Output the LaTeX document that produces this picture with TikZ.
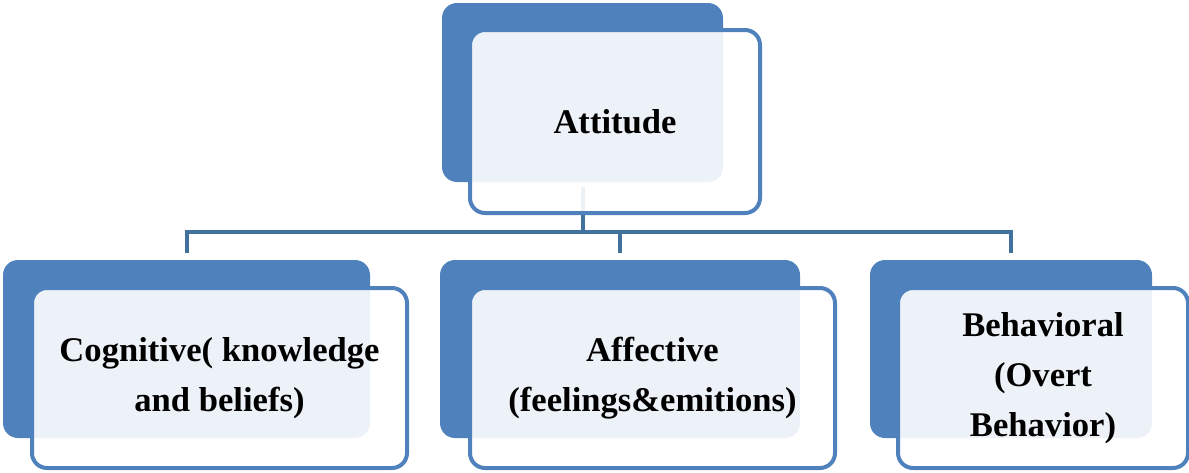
\documentclass[tikz,border=0pt]{standalone}
\usepackage{fontspec}
\setmainfont{Liberation Serif}
\definecolor{accent}{HTML}{4F81BD}
\definecolor{conn}{HTML}{41719C}
\tikzset{
  backbox/.style={draw=none, fill=accent, rounded corners=7.5pt, inner sep=0pt, outer sep=0pt},
  frontbox/.style={draw=accent, line width=2pt, fill=white, fill opacity=0.9, text opacity=1,
     rounded corners=7.5pt, inner sep=0pt, outer sep=0pt, align=center,
     font=\fontsize{17.3}{25}\selectfont\bfseries},
  connector/.style={draw=conn, line width=2pt}
}
\begin{document}
\begin{tikzpicture}[x=0.5pt, y=-0.5pt]
\useasboundingbox (0,0) rectangle (1189,472);
% back boxes
\node[backbox, minimum width=140.5pt, minimum height=89.5pt] (tb) at (582.5,92.5) {};
\node[backbox, minimum width=183.5pt, minimum height=89pt] (lb) at (186.5,349) {};
\node[backbox, minimum width=180pt, minimum height=89pt] (mb) at (620,349) {};
\node[backbox, minimum width=141pt, minimum height=89pt] (rb) at (1011,349) {};
% connectors
\coordinate (bus) at (582.5,232);
\coordinate (busl) at (186.5,232);
\coordinate (busm) at (620,232);
\coordinate (busr) at (1011,232);
\draw[connector] ([yshift=-2.5pt]tb.south) -- (bus);
\draw[connector, line cap=rect] (busl) -- (busr);
\draw[connector] (busl) -- ([yshift=3.5pt]lb.north);
\draw[connector] (busm) -- ([yshift=3.5pt]mb.north);
\draw[connector] (busr) -- ([yshift=3.5pt]rb.north);
% front boxes
\node[frontbox, minimum width=145pt, minimum height=91.5pt] (tf) at (615,121.5) {Attitude};
\node[frontbox, minimum width=187.5pt, minimum height=90pt] (lf) at (219.5,378) {Cognitive( knowledge\\and beliefs)};
\node[frontbox, minimum width=182.5pt, minimum height=90pt] (mf) at (652.5,378) {Affective\\(feelings\&emitions)};
\node[frontbox, minimum width=145pt, minimum height=90pt] (rf) at (1043,378) {Behavioral\\(Overt\\Behavior)};
\end{tikzpicture}
\end{document}
